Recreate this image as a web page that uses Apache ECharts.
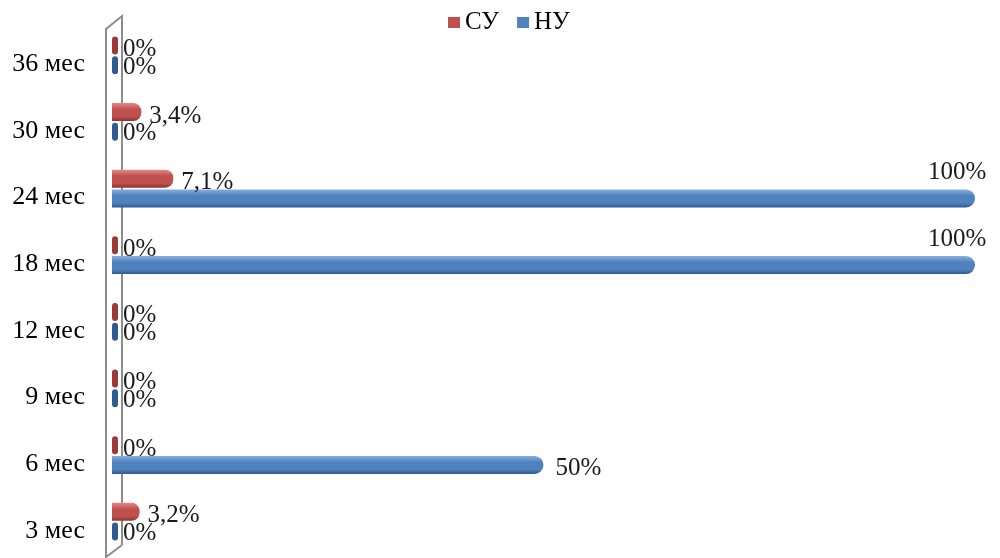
<!DOCTYPE html>
<html>
<head>
<meta charset="utf-8">
<script src="https://cdn.jsdelivr.net/npm/echarts@6/dist/echarts.min.js"></script>
<style>
  html, body { margin: 0; padding: 0; background: #fff; }
  #chart { width: 1000px; height: 558px; }
</style>
</head>
<body>
<div id="chart"></div>
<script>
const categories = ['3 мес', '6 мес', '9 мес', '12 мес', '18 мес', '24 мес', '30 мес', '36 мес'];
const suValues = [3.2, 0, 0, 0, 0, 7.1, 3.4, 0];
const nuValues = [0, 50, 0, 0, 100, 100, 0, 0];
const seriesNames = ['СУ', 'НУ'];

const serif = '"Liberation Serif", "Times New Roman", serif';
const gridLeft = 112;
const gridTop = 22;
const gridHeight = 533;

function formatPct(v) {
  const s = Number.isInteger(v) ? String(v) : v.toFixed(1).replace('.', ',');
  return s + '%';
}

function cylinder(top, mid, bottom) {
  return new echarts.graphic.LinearGradient(0, 0, 0, 1, [
    { offset: 0, color: top },
    { offset: 0.35, color: mid },
    { offset: 0.75, color: mid },
    { offset: 1, color: bottom }
  ]);
}

const redFill = cylinder('#e68a87', '#c0504d', '#8a3432');
const blueFill = cylinder('#86aee0', '#4f81bd', '#2c5a92');

// zero values get a small dark ellipse, 100% labels sit above the bar end
function buildData(values, zeroColor, zeroTweak, valueTweak) {
  return values.map(v => {
    const item = { value: v };
    if (v === 0) {
      item.itemStyle = { color: zeroColor, borderRadius: 3 };
      item.label = { offset: zeroTweak };
    } else if (v >= 100) {
      item.label = { offset: [-52, -26] };
    } else {
      item.label = { offset: valueTweak };
    }
    return item;
  });
}

const labelStyle = {
  show: true,
  position: 'right',
  distance: 5,
  formatter: p => formatPct(p.value),
  fontFamily: serif,
  fontSize: 25,
  color: '#1a1a1a'
};

let option = {
  animation: false,
  backgroundColor: '#ffffff',
  legend: {
    data: [
      { name: seriesNames[0], itemStyle: { color: '#c0504d' } },
      { name: seriesNames[1], itemStyle: { color: '#4f81bd' } }
    ],
    left: 443,
    top: 5,
    itemWidth: 12,
    itemHeight: 11,
    itemGap: 18,
    icon: 'rect',
    textStyle: { fontFamily: serif, fontSize: 25, color: '#000' }
  },
  grid: {
    left: gridLeft,
    right: 25,
    top: gridTop,
    height: gridHeight
  },
  xAxis: {
    type: 'value',
    min: 0,
    max: 100,
    show: false
  },
  yAxis: {
    type: 'category',
    data: categories,
    axisLine: { show: false },
    axisTick: { show: false },
    axisLabel: {
      margin: 27,
      fontFamily: serif,
      fontSize: 26,
      color: '#000',
      verticalAlign: 'top',
      lineHeight: 18
    }
  },
  graphic: [
    {
      type: 'polyline',
      z: 1,
      shape: {
        points: [[122, 545], [106, 557], [106, 29], [122, 16], [122, 545]]
      },
      style: { stroke: '#8c8c8c', lineWidth: 2, fill: null }
    }
  ],
  series: [
    {
      name: seriesNames[0],
      type: 'bar',
      z: 3,
      barWidth: 18,
      barGap: '10%',
      barMinHeight: 6,
      data: buildData(suValues, '#9b3a37', [0, 4], [3, 4]),
      itemStyle: { color: redFill, borderRadius: [0, 8, 8, 0] },
      label: labelStyle
    },
    {
      name: seriesNames[1],
      type: 'bar',
      z: 3,
      barWidth: 18,
      barGap: '10%',
      barMinHeight: 6,
      data: buildData(nuValues, '#2f5d8e', [0, 2], [7, 3]),
      itemStyle: { color: blueFill, borderRadius: [0, 9, 9, 0] },
      label: labelStyle
    }
  ]
};

const myChart = echarts.init(document.getElementById('chart'));
myChart.setOption(option);
</script>
</body>
</html>
